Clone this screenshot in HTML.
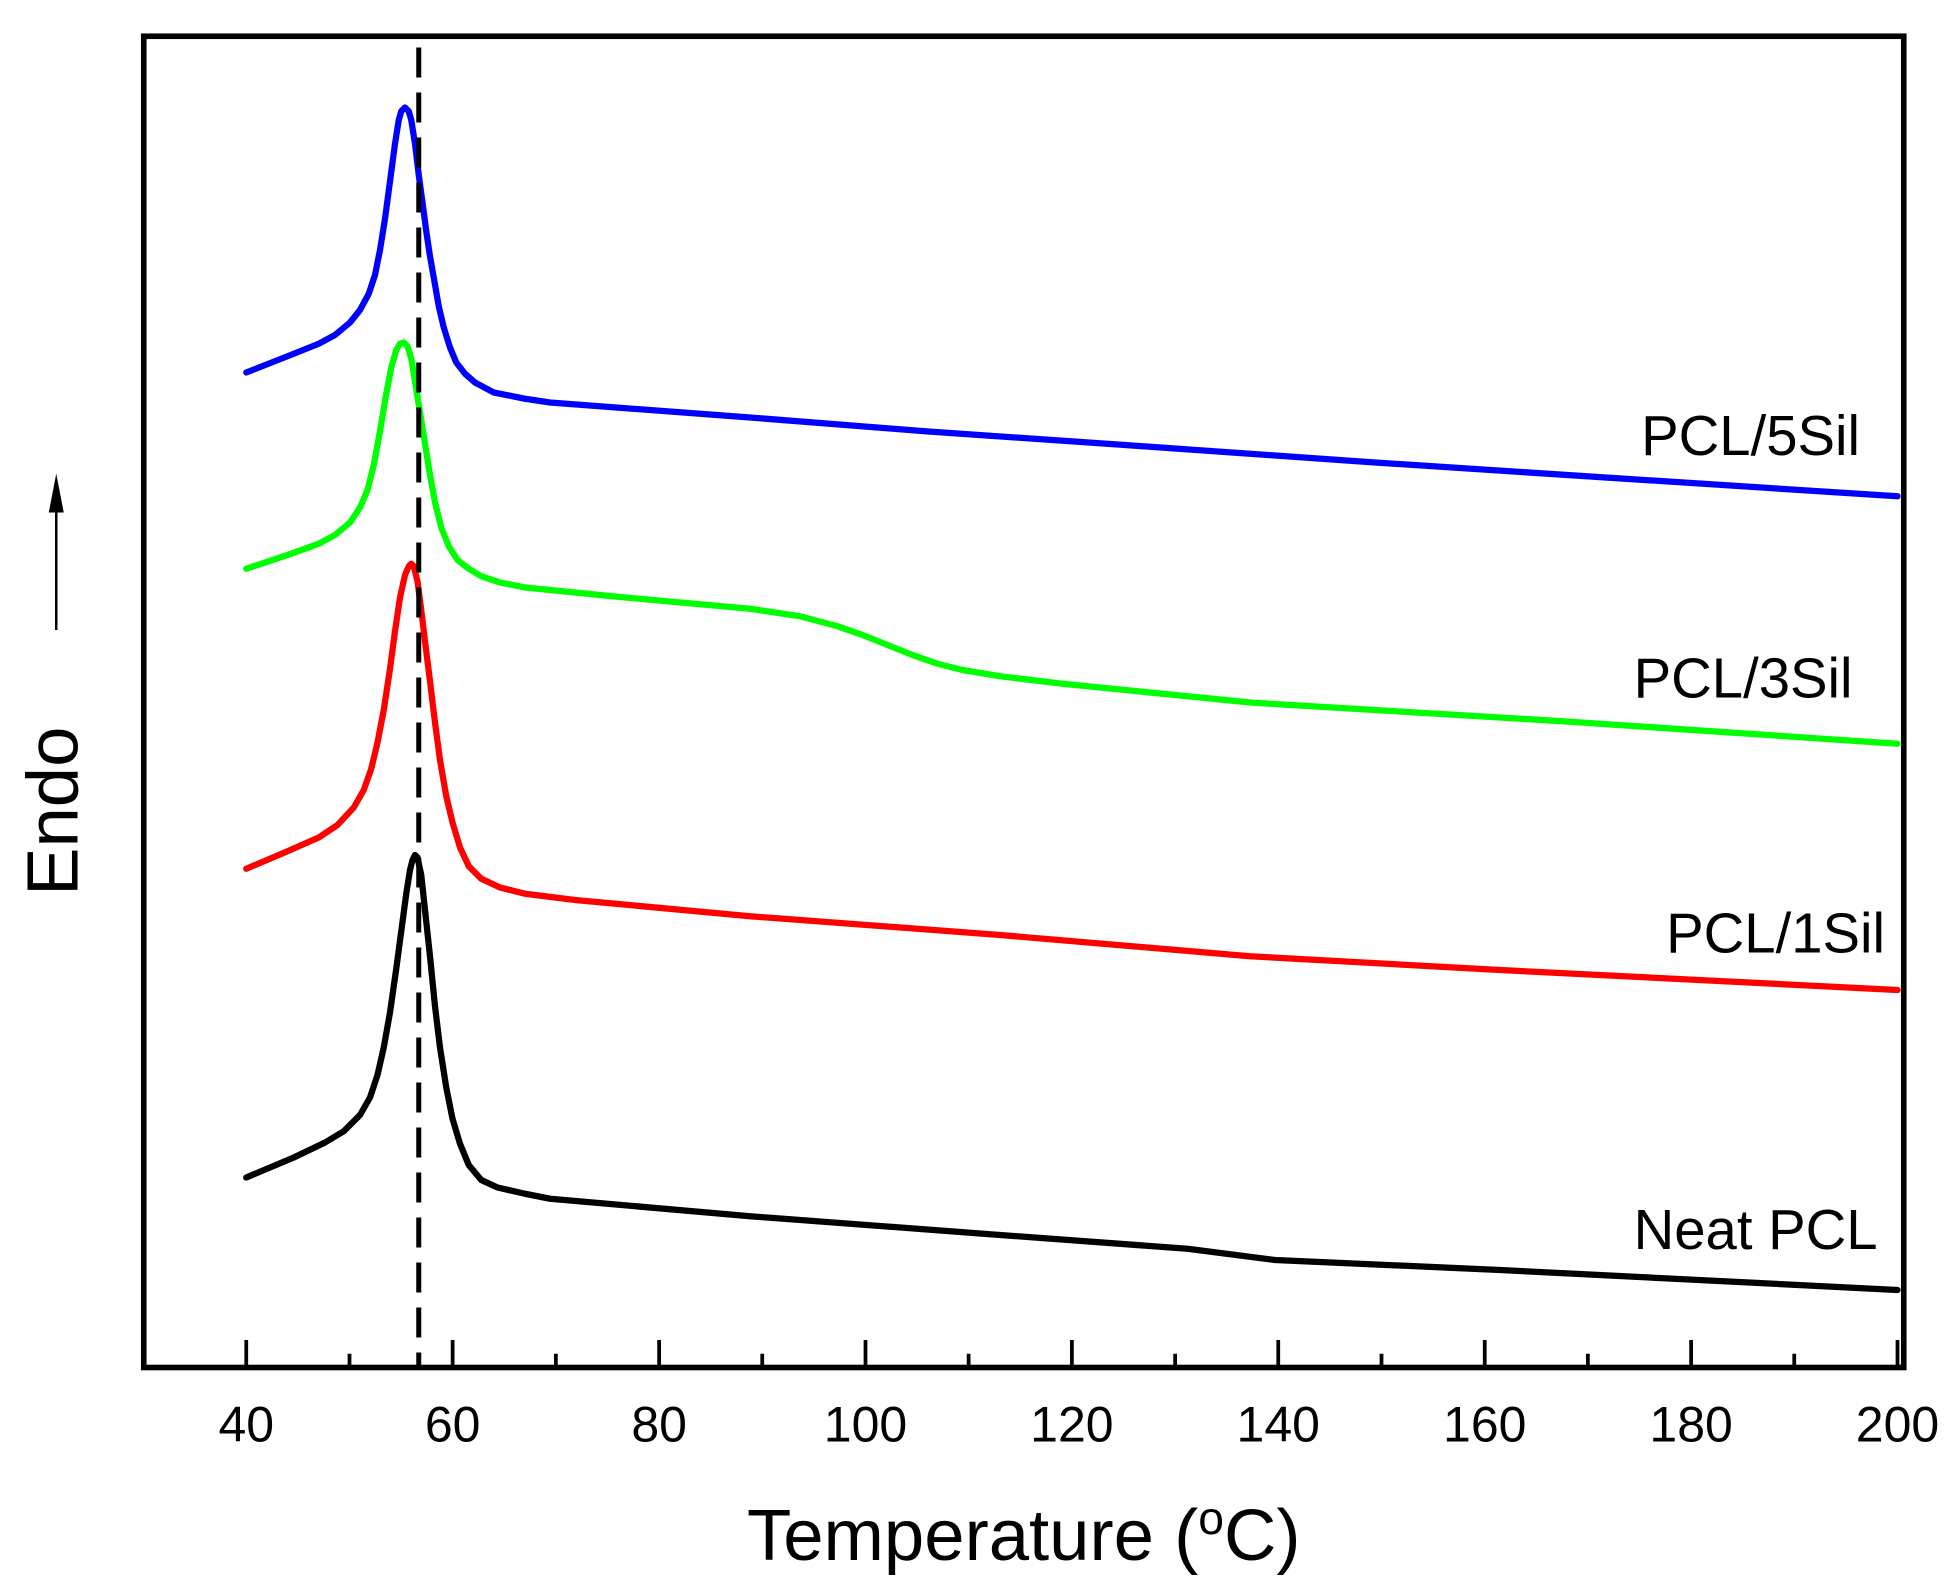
<!DOCTYPE html>
<html><head><meta charset="utf-8"><style>html,body{margin:0;padding:0;background:#fff}svg{display:block}</style></head>
<body>
<svg width="1950" height="1593" viewBox="0 0 1560 1274.4" xmlns="http://www.w3.org/2000/svg" font-family="Liberation Sans, Arial, sans-serif">
<rect width="1560" height="1274.4" fill="#fff"/>
<g fill="none" stroke-width="5" stroke-linejoin="round" stroke-linecap="round">
<polyline stroke="#0000ff" points="197,298 230,285 255,275 268,268 280,258 288,248 295,235 300,220 304,200 308,175 312,145 316,115 319,96 321,89 324,86 327,89 329,96 332,115 335,140 338,162 341,185 344,205 347,222 351,245 355,262 360,278 365,290 372,299 380,306 395,314 420,319 440,322 600,334 740,345 900,356 1100,370 1300,383 1518,397"/>
<polyline stroke="#00ff00" points="197,455 230,444 255,435 268,428 280,418 288,406 294,392 299,372 304,345 309,315 313,294 317,280 320,275 323,274 326,277 329,287 332,305 336,330 340,355 344,380 348,402 353,422 359,437 366,448 375,455 385,461 400,466 420,470 500,478 600,487 640,493 670,501 690,508 710,516 730,524 750,531 770,536 800,541 850,547 1000,562 1250,577 1518,595"/>
<polyline stroke="#ff0000" points="197,695 230,681 255,670 270,660 283,646 291,632 297,615 302,594 307,568 312,535 316,505 320,478 324,460 327,453 329,451 331,453 334,465 337,488 340,513 344,545 348,578 352,608 357,637 362,658 368,678 375,693 385,703 400,710 420,715 460,720 600,733 800,748 1000,765 1200,776 1518,792"/>
<polyline stroke="#000000" points="197,942 235,926 260,914 275,905 288,892 296,878 302,860 307,838 312,810 317,775 321,745 325,715 328,696 330,688 332,684 334,686 337,700 340,728 344,765 348,805 352,838 357,870 362,895 368,915 375,932 385,944 398,950 420,955 440,959 600,973 800,988 950,999 1020,1008 1200,1016 1518,1032"/>
</g>
<line x1="335" y1="38" x2="335" y2="1092" stroke="#000" stroke-width="4" stroke-dasharray="24,12"/>
<rect x="115" y="29" width="1408" height="1065" fill="none" stroke="#000" stroke-width="4.5"/>
<g stroke="#000" stroke-width="3">
<line x1="197" y1="1093" x2="197" y2="1072"/><line x1="279.6" y1="1093" x2="279.6" y2="1083"/>
<line x1="362.1" y1="1093" x2="362.1" y2="1072"/><line x1="444.7" y1="1093" x2="444.7" y2="1083"/>
<line x1="527.3" y1="1093" x2="527.3" y2="1072"/><line x1="609.8" y1="1093" x2="609.8" y2="1083"/>
<line x1="692.4" y1="1093" x2="692.4" y2="1072"/><line x1="774.9" y1="1093" x2="774.9" y2="1083"/>
<line x1="857.5" y1="1093" x2="857.5" y2="1072"/><line x1="940.1" y1="1093" x2="940.1" y2="1083"/>
<line x1="1022.6" y1="1093" x2="1022.6" y2="1072"/><line x1="1105.2" y1="1093" x2="1105.2" y2="1083"/>
<line x1="1187.8" y1="1093" x2="1187.8" y2="1072"/><line x1="1270.3" y1="1093" x2="1270.3" y2="1083"/>
<line x1="1352.9" y1="1093" x2="1352.9" y2="1072"/><line x1="1435.4" y1="1093" x2="1435.4" y2="1083"/>
<line x1="1518" y1="1093" x2="1518" y2="1072"/>
</g>
<g font-size="40" text-anchor="middle" fill="#000">
<text x="197" y="1153">40</text><text x="362.1" y="1153">60</text><text x="527.3" y="1153">80</text>
<text x="692.4" y="1153">100</text><text x="857.5" y="1153">120</text><text x="1022.6" y="1153">140</text>
<text x="1187.8" y="1153">160</text><text x="1352.9" y="1153">180</text><text x="1518" y="1153">200</text>
</g>
<text x="819" y="1248" font-size="58" text-anchor="middle">Temperature (<tspan font-size="37" dy="-21">o</tspan><tspan dy="21">C)</tspan></text>
<text transform="translate(62,649) rotate(-90)" font-size="58" text-anchor="middle">Endo</text>
<line x1="45" y1="504" x2="45" y2="400" stroke="#000" stroke-width="2"/>
<polygon points="45,379 39,410 51,410" fill="#000"/>
<g font-size="45" text-anchor="end">
<text x="1488" y="364">PCL/5Sil</text>
<text x="1482" y="558">PCL/3Sil</text>
<text x="1508" y="762">PCL/1Sil</text>
<text x="1502" y="999">Neat PCL</text>
</g>
</svg>
</body></html>
